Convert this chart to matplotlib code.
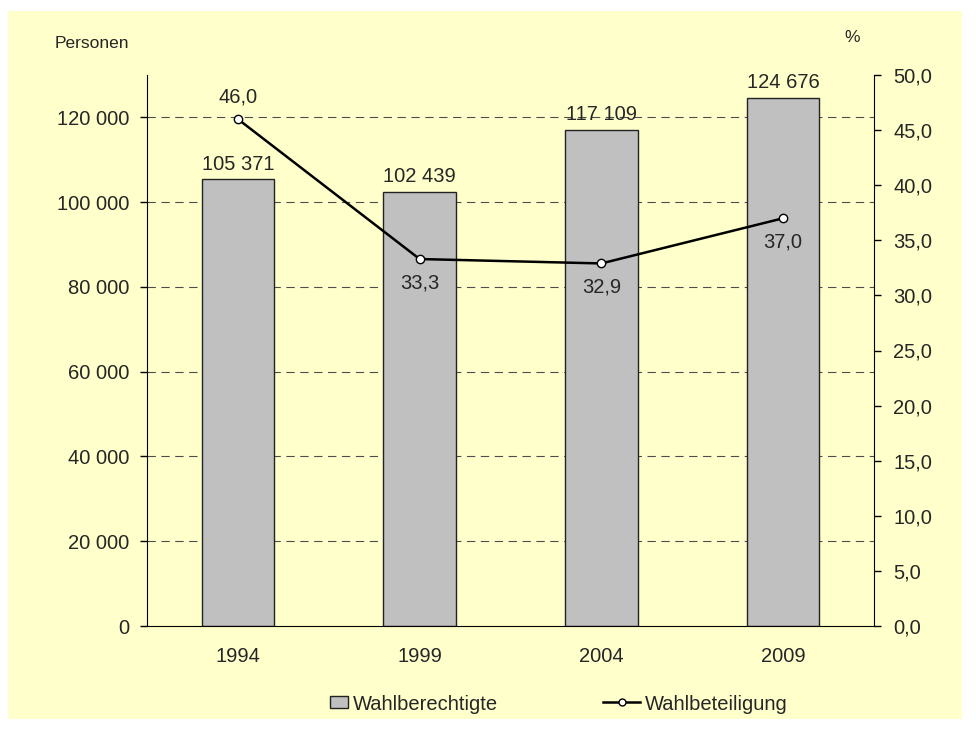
import matplotlib.pyplot as plt
from matplotlib.patches import Rectangle
from matplotlib.lines import Line2D

plt.rcParams['font.family'] = ['Liberation Sans', 'DejaVu Sans']

years = ['1994', '1999', '2004', '2009']
wahlberechtigte = [105371, 102439, 117109, 124676]
wahlbeteiligung = [46.0, 33.3, 32.9, 37.0]
left_ticks = [0, 20000, 40000, 60000, 80000, 100000, 120000]
right_ticks = [0, 5, 10, 15, 20, 25, 30, 35, 40, 45, 50]

txt = '#262626'
bg = '#FFFFCC'
fs = 14.5

def fmt_de(v):
    return f"{v:,.0f}".replace(',', ' ')

fig = plt.figure(figsize=(9.76, 7.33), dpi=100)
fig.patch.set_facecolor('white')
fig.patches.append(Rectangle((8/976, 1-719/733), 954/976, 708/733,
                             transform=fig.transFigure, facecolor=bg,
                             edgecolor='none', zorder=-10))

ax = fig.add_axes([147/976, 1-626/733, 727/976, 551/733])
ax.set_facecolor('none')
x = list(range(len(years)))

ax.set_xlim(-0.5, 3.5)
ax.set_ylim(0, 130000)
ax.set_yticks(left_ticks)
ax.set_yticklabels([fmt_de(v) for v in left_ticks])
for v in left_ticks[1:]:
    ax.axhline(v, color='#4d4d4d', lw=0.8, ls=(0, (7.5, 5)), zorder=1)

bars = ax.bar(x, wahlberechtigte, width=0.4, color='#C0C0C0',
              edgecolor='#222222', lw=1.0, zorder=2)
for xi, v in zip(x, wahlberechtigte):
    ax.annotate(fmt_de(v), (xi, v), xytext=(0, 11), textcoords='offset points',
                ha='center', va='center', fontsize=fs, color=txt)

ax.set_xticks(x)
ax.set_xticklabels(years)
ax.tick_params(axis='x', length=0, pad=15, labelsize=fs, labelcolor=txt)
ax.tick_params(axis='y', length=5, width=1, pad=8, labelsize=fs, labelcolor=txt,
               direction='out')
for s in ['top', 'right']:
    ax.spines[s].set_visible(False)
ax.spines['left'].set_color('black')
ax.spines['bottom'].set_color('black')

ax2 = ax.twinx()
ax2.set_ylim(0, 50)
ax2.set_yticks(right_ticks)
ax2.set_yticklabels([f"{v:.1f}".replace('.', ',') for v in right_ticks])
ax2.tick_params(axis='y', length=5, width=1, pad=9, labelsize=fs, labelcolor=txt,
                direction='out')
for s in ['top', 'left', 'bottom']:
    ax2.spines[s].set_visible(False)
ax2.spines['right'].set_color('black')

ax2.plot(x, wahlbeteiligung, color='black', lw=1.8, marker='o', ms=6,
         mfc='white', mec='black', mew=1, zorder=5)
for i, (xi, v) in enumerate(zip(x, wahlbeteiligung)):
    lab = f"{v:.1f}".replace('.', ',')
    dy = 16 if i == 0 else -17
    ax2.annotate(lab, (xi, v), xytext=(0, dy), textcoords='offset points',
                 ha='center', va='center', fontsize=fs, color=txt)

fig.text(55/976, 1-44/733, 'Personen', fontsize=12.5, color=txt, va='center')
fig.text(852/976, 1-37/733, '%', fontsize=12.5, color=txt, va='center', ha='center')

h1 = Rectangle((0, 0), 1, 1, facecolor='#C0C0C0', edgecolor='#222222', lw=1)
h2 = Line2D([], [], color='black', lw=1.8, marker='o', ms=5, mfc='white', mec='black')
leg1 = fig.legend([h1], ['Wahlberechtigte'], loc='center left',
                  bbox_to_anchor=(330/976, 1-704/733), frameon=False,
                  fontsize=fs, labelcolor=txt, handlelength=0.9, handleheight=0.55,
                  handletextpad=0.25, borderpad=0, borderaxespad=0)
leg2 = fig.legend([h2], ['Wahlbeteiligung'], loc='center left',
                  bbox_to_anchor=(603/976, 1-704/733), frameon=False,
                  fontsize=fs, labelcolor=txt, handlelength=1.85,
                  handletextpad=0.25, borderpad=0, borderaxespad=0)

fig.savefig('out.png', dpi=100)
